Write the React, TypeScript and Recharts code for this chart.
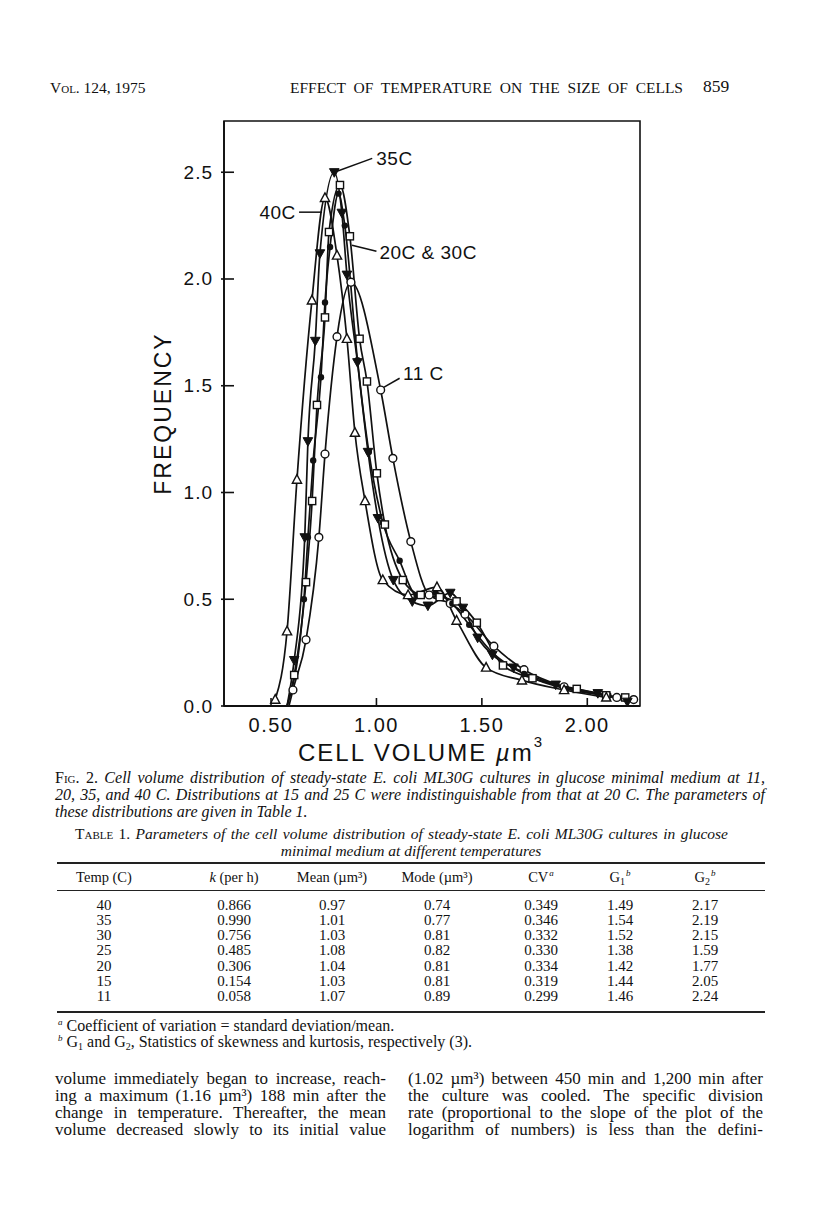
import React from 'react'
import {
  ComposedChart,
  Line,
  XAxis,
  YAxis,
  ReferenceArea,
  ReferenceLine,
  ReferenceDot,
} from 'recharts'

// cell volume (um3) and frequency, one pair per culture temperature
const vol40 = [0.52, 0.576, 0.623, 0.694, 0.756, 0.813, 0.86, 0.898, 0.946, 1.03, 1.15, 1.287, 1.38, 1.52, 1.69, 1.89, 2.09]
const freq40 = [0.03, 0.35, 1.06, 1.9, 2.38, 2.11, 1.72, 1.28, 0.96, 0.59, 0.52, 0.557, 0.4, 0.18, 0.12, 0.075, 0.04]

const vol35 = [0.576, 0.61, 0.66, 0.675, 0.71, 0.732, 0.8, 0.836, 0.86, 0.91, 0.96, 1.007, 1.08, 1.17, 1.244, 1.35, 1.41, 1.48, 1.55, 1.65, 1.85, 2.05, 2.19]
const freq35 = [0, 0.215, 0.79, 1.24, 1.71, 2.12, 2.5, 2.31, 2.02, 1.61, 1.19, 0.88, 0.59, 0.49, 0.47, 0.53, 0.46, 0.32, 0.24, 0.18, 0.1, 0.06, 0.02]

const vol30 = [0.576, 0.61, 0.666, 0.695, 0.718, 0.756, 0.775, 0.827, 0.874, 0.92, 0.955, 1.002, 1.04, 1.125, 1.21, 1.3, 1.38, 1.476, 1.6, 1.74, 1.95, 2.09, 2.18]
const freq30 = [0, 0.145, 0.58, 0.96, 1.41, 1.82, 2.22, 2.44, 2.2, 1.72, 1.52, 1.09, 0.85, 0.59, 0.52, 0.51, 0.49, 0.39, 0.19, 0.13, 0.08, 0.05, 0.04]

const vol20 = [0.576, 0.656, 0.675, 0.7, 0.737, 0.756, 0.78, 0.82, 0.85, 0.91, 0.964, 1.03, 1.11, 1.19, 1.28, 1.36, 1.44, 1.55, 1.7, 1.9, 2.1]
const freq20 = [0, 0.5, 0.79, 1.15, 1.54, 1.89, 2.15, 2.4, 2.25, 1.62, 1.19, 0.86, 0.68, 0.52, 0.53, 0.48, 0.38, 0.25, 0.15, 0.08, 0.05]

const vol11 = [0.585, 0.604, 0.666, 0.727, 0.756, 0.813, 0.879, 1.02, 1.078, 1.163, 1.25, 1.35, 1.42, 1.557, 1.7, 1.89, 2.14, 2.22]
const freq11 = [0, 0.075, 0.31, 0.79, 1.18, 1.73, 1.985, 1.48, 1.16, 0.77, 0.52, 0.48, 0.43, 0.28, 0.17, 0.09, 0.04, 0.03]

const xTicks = [0.5, 1.0, 1.5, 2.0]
const yTicks = [0, 0.5, 1.0, 1.5, 2.0, 2.5]
const xDomain = [0.277, 2.25]
const yDomain = [0, 2.74]

const tableHead = ['Temp (C)', 'k (per h)', 'Mean (µm³)', 'Mode (µm³)', 'CV', 'G₁', 'G₂']
const tempC = ['40', '35', '30', '25', '20', '15', '11']
const kPerH = ['0.866', '0.990', '0.756', '0.485', '0.306', '0.154', '0.058']
const meanVol = ['0.97', '1.01', '1.03', '1.08', '1.04', '1.03', '1.07']
const modeVol = ['0.74', '0.77', '0.81', '0.82', '0.81', '0.81', '0.89']
const cv = ['0.349', '0.346', '0.332', '0.330', '0.334', '0.319', '0.299']
const g1 = ['1.49', '1.54', '1.52', '1.38', '1.42', '1.44', '1.46']
const g2 = ['2.17', '2.19', '2.15', '1.59', '1.77', '2.05', '2.24']

const zip = (v: number[], f: number[]) => v.map((x, i) => ({ v: x, f: f[i] }))

const sans = '"Liberation Sans", Arial, sans-serif'
const serif = '"Liberation Serif", "Times New Roman", serif'
const ink = '#111'

type M = { cx?: number; cy?: number; payload?: any; index?: number }

const openTri = (p: M) => {
  const { cx = 0, cy = 0 } = p
  if (!p.payload || p.payload.f === 0) return <g key={p.index} />
  return <polygon key={p.index} points={`${cx},${cy - 5} ${cx - 4.6},${cy + 3.6} ${cx + 4.6},${cy + 3.6}`} fill="#fff" stroke={ink} strokeWidth={1.4} />
}
const downTri = (p: M) => {
  const { cx = 0, cy = 0 } = p
  if (!p.payload || p.payload.f === 0) return <g key={p.index} />
  return <polygon key={p.index} points={`${cx - 4.8},${cy - 3.6} ${cx + 4.8},${cy - 3.6} ${cx},${cy + 5}`} fill={ink} stroke={ink} strokeWidth={1} />
}
const openSq = (p: M) => {
  const { cx = 0, cy = 0 } = p
  if (!p.payload || p.payload.f === 0) return <g key={p.index} />
  return <rect key={p.index} x={cx - 3.6} y={cy - 3.6} width={7.2} height={7.2} fill="#fff" stroke={ink} strokeWidth={1.4} />
}
const dotFill = (p: M) => {
  const { cx = 0, cy = 0 } = p
  if (!p.payload || p.payload.f === 0) return <g key={p.index} />
  return <circle key={p.index} cx={cx} cy={cy} r={3.2} fill={ink} />
}
const dotOpen = (p: M) => {
  const { cx = 0, cy = 0 } = p
  if (!p.payload || p.payload.f === 0) return <g key={p.index} />
  return <circle key={p.index} cx={cx} cy={cy} r={3.9} fill="#fff" stroke={ink} strokeWidth={1.4} />
}

const YTick = (props: any) => {
  const { x, y, payload } = props
  return (
    <g>
      <line x1={x + 7} x2={x + 20} y1={y} y2={y} stroke={ink} strokeWidth={1.6} />
      <text x={x - 1} y={y} textAnchor="end" dominantBaseline="central" fontFamily={sans} fontSize={19} fill={ink} letterSpacing={1}>
        {payload.value.toFixed(1)}
      </text>
    </g>
  )
}

const XTick = (props: any) => {
  const { x, y, payload } = props
  return (
    <g>
      <line x1={x} x2={x} y1={y - 8} y2={y - 16} stroke={ink} strokeWidth={1.6} />
      <text x={x} y={y + 11} textAnchor="middle" dominantBaseline="central" fontFamily={sans} fontSize={20} fill={ink} letterSpacing={1.5}>
        {payload.value.toFixed(2)}
      </text>
    </g>
  )
}

const note = { fill: ink, fontSize: 19, fontFamily: sans, letterSpacing: 0.5 }

function Chart() {
  return (
    <ComposedChart width={816} height={780} margin={{ top: 121, right: 176, bottom: 4, left: 154 }}>
      <XAxis
        type="number"
        dataKey="v"
        domain={xDomain}
        ticks={xTicks}
        allowDataOverflow
        height={70}
        tickSize={0}
        tickMargin={8}
        tickLine={false}
        tick={<XTick />}
        axisLine={{ stroke: ink, strokeWidth: 1.8 }}
        label={(p: any) => {
          const vb = p.viewBox
          return (
            <text x={vb.x + vb.width / 2 - 11} y={vb.y + 46} textAnchor="middle" dominantBaseline="central" fontFamily={sans} fontSize={24} fill={ink} letterSpacing={2}>
              CELL VOLUME <tspan fontStyle="italic">µ</tspan>m<tspan dy={-11} fontSize={15}>3</tspan>
            </text>
          )
        }}
      />
      <YAxis
        type="number"
        domain={yDomain}
        ticks={yTicks}
        allowDataOverflow
        width={70}
        tickSize={0}
        tickMargin={10}
        tickLine={false}
        tick={<YTick />}
        axisLine={{ stroke: ink, strokeWidth: 1.8 }}
        label={(p: any) => {
          const vb = p.viewBox
          const cx = vb.x + 9
          const cy = vb.y + vb.height / 2
          return (
            <text x={cx} y={cy} transform={`rotate(-90 ${cx} ${cy})`} textAnchor="middle" dominantBaseline="central" fontFamily={sans} fontSize={23} fill={ink} letterSpacing={2}>
              FREQUENCY
            </text>
          )
        }}
      />
      <ReferenceArea x1={xDomain[0]} x2={xDomain[1]} y1={yDomain[0]} y2={yDomain[1]} fill="none" stroke={ink} strokeWidth={1.6} ifOverflow="visible" />

      <Line data={zip(vol11, freq11)} dataKey="f" type="monotone" stroke={ink} strokeWidth={1.7} dot={dotOpen} isAnimationActive={false} />
      <Line data={zip(vol20, freq20)} dataKey="f" type="monotone" stroke={ink} strokeWidth={1.7} dot={dotFill} isAnimationActive={false} />
      <Line data={zip(vol30, freq30)} dataKey="f" type="monotone" stroke={ink} strokeWidth={1.7} dot={openSq} isAnimationActive={false} />
      <Line data={zip(vol35, freq35)} dataKey="f" type="monotone" stroke={ink} strokeWidth={1.7} dot={downTri} isAnimationActive={false} />
      <Line data={zip(vol40, freq40)} dataKey="f" type="monotone" stroke={ink} strokeWidth={1.7} dot={openTri} isAnimationActive={false} />

      <ReferenceLine segment={[{ x: 0.8, y: 2.5 }, { x: 0.98, y: 2.565 }]} stroke={ink} strokeWidth={1.5} ifOverflow="visible" />
      <ReferenceDot x={0.985} y={2.565} r={1} fill="none" stroke="none" label={{ value: '35C', position: 'right', offset: 2, ...note }} />
      <ReferenceLine segment={[{ x: 0.633, y: 2.313 }, { x: 0.742, y: 2.313 }]} stroke={ink} strokeWidth={1.5} ifOverflow="visible" />
      <ReferenceDot x={0.632} y={2.313} r={1} fill="none" stroke="none" label={{ value: '40C', position: 'left', offset: 2, ...note }} />
      <ReferenceLine segment={[{ x: 0.884, y: 2.158 }, { x: 1.0, y: 2.13 }]} stroke={ink} strokeWidth={1.5} ifOverflow="visible" />
      <ReferenceDot x={1.0} y={2.125} r={1} fill="none" stroke="none" label={{ value: '20C & 30C', position: 'right', offset: 2, ...note }} />
      <ReferenceLine segment={[{ x: 1.03, y: 1.49 }, { x: 1.11, y: 1.535 }]} stroke={ink} strokeWidth={1.5} ifOverflow="visible" />
      <ReferenceDot x={1.112} y={1.56} r={1} fill="none" stroke="none" label={{ value: '11 C', position: 'right', offset: 2, ...note }} />
    </ComposedChart>
  )
}

const abs = (left: number, top: number, extra: React.CSSProperties = {}): React.CSSProperties => ({
  position: 'absolute',
  left,
  top,
  ...extra,
})

// one justified line of running text, centred vertically on y
function TextLine({ x, y, w, size, italic, last, center, children }: { x: number; y: number; w: number; size: number; italic?: boolean; last?: boolean; center?: boolean; children: React.ReactNode }) {
  const align = center ? 'center' : last ? 'left' : 'justify'
  return (
    <div
      style={abs(x, y - size / 2, {
        width: w,
        fontSize: size,
        lineHeight: `${size}px`,
        fontStyle: italic ? 'italic' : 'normal',
        textAlign: align,
        textAlignLast: align,
        whiteSpace: 'nowrap',
      })}
    >
      {children}
    </div>
  )
}

const Sup = ({ c }: { c: string }) => (
  <span style={{ fontSize: 9, fontStyle: 'italic', position: 'relative', top: -6, marginLeft: 1 }}>{c}</span>
)
const Sub = ({ c }: { c: string }) => (
  <span style={{ fontSize: 10, position: 'relative', top: 3 }}>{c}</span>
)

const colCenter = [104, 234, 332, 437, 541, 620, 705]
const rowY = [905, 920.3, 935.6, 950.9, 966.2, 981.5, 996.8]

export default function App() {
  const rows = tempC.map((t, i) => [t, kPerH[i], meanVol[i], modeVol[i], cv[i], g1[i], g2[i]])
  return (
    <div style={{ position: 'absolute', left: 0, top: 0, width: 816, height: 1227, background: '#fff', color: ink, fontFamily: serif, overflow: 'hidden' }}>
      {/* running head */}
      <TextLine x={50} y={88} w={120} size={15.5} last>
        <span style={{ fontVariant: 'small-caps' }}>Vol. 124, 1975</span>
      </TextLine>
      <TextLine x={290} y={88} w={393} size={15.5}>EFFECT OF TEMPERATURE ON THE SIZE OF CELLS</TextLine>
      <TextLine x={703} y={87} w={40} size={17.5} last>859</TextLine>

      <div style={abs(0, 0)}>
        <Chart />
      </div>

      {/* figure legend */}
      <TextLine x={55} y={778} w={710} size={16} italic>
        <span style={{ fontStyle: 'normal', fontVariant: 'small-caps' }}>Fig. 2.</span> Cell volume distribution of steady-state E. coli ML30G cultures in glucose minimal medium at 11,
      </TextLine>
      <TextLine x={55} y={795} w={710} size={16} italic>
        20, 35, and 40 C. Distributions at 15 and 25 C were indistinguishable from that at 20 C. The parameters of
      </TextLine>
      <TextLine x={55} y={812} w={710} size={16} italic last>
        these distributions are given in Table 1.
      </TextLine>

      {/* table */}
      <TextLine x={75} y={834} w={653} size={15.5} italic>
        <span style={{ fontStyle: 'normal', fontVariant: 'small-caps' }}>Table 1.</span> Parameters of the cell volume distribution of steady-state E. coli ML30G cultures in glucose
      </TextLine>
      <TextLine x={57} y={851} w={708} size={15.5} italic center>
        minimal medium at different temperatures
      </TextLine>
      <div style={abs(57, 862, { width: 708, height: 0, borderTop: '2px solid #222' })} />
      <div style={abs(57, 890, { width: 708, height: 0, borderTop: '1.5px solid #222' })} />
      <div style={abs(57, 1011, { width: 708, height: 0, borderTop: '2px solid #222' })} />
      {tableHead.map((h, j) => (
        <div key={h} style={abs(colCenter[j] - 60, 877 - 7.5, { width: 120, textAlign: 'center', fontSize: 14.5, lineHeight: '15px', whiteSpace: 'nowrap' })}>
          {j === 1 ? (
            <>
              <i>k</i> (per h)
            </>
          ) : j >= 5 ? (
            <>
              G<Sub c={j === 5 ? '1' : '2'} />
            </>
          ) : (
            h
          )}
          {j === 4 && <Sup c="a" />}
          {j >= 5 && <Sup c="b" />}
        </div>
      ))}
      {rows.map((r, i) =>
        r.map((c, j) => (
          <div key={`${i}-${j}`} style={abs(colCenter[j] - 40, rowY[i] - 7.5, { width: 80, textAlign: 'center', fontSize: 15, lineHeight: '15px' })}>
            {c}
          </div>
        ))
      )}

      {/* footnotes */}
      <div style={abs(57, 1026 - 8, { fontSize: 16, lineHeight: '16px', whiteSpace: 'nowrap' })}>
        <Sup c="a" /> Coefficient of variation = standard deviation/mean.
      </div>
      <div style={abs(57, 1042 - 8, { fontSize: 16, lineHeight: '16px', whiteSpace: 'nowrap' })}>
        <Sup c="b" /> G<Sub c="1" /> and G<Sub c="2" />, Statistics of skewness and kurtosis, respectively (3).
      </div>

      {/* body text, two columns */}
      <TextLine x={55} y={1078} w={331} size={17}>volume immediately began to increase, reach-</TextLine>
      <TextLine x={55} y={1095} w={331} size={17}>ing a maximum (1.16 µm³) 188 min after the</TextLine>
      <TextLine x={55} y={1112} w={331} size={17}>change in temperature. Thereafter, the mean</TextLine>
      <TextLine x={55} y={1129} w={331} size={17}>volume decreased slowly to its initial value</TextLine>
      <TextLine x={408} y={1078} w={355} size={17}>(1.02 µm³) between 450 min and 1,200 min after</TextLine>
      <TextLine x={408} y={1095} w={355} size={17}>the culture was cooled. The specific division</TextLine>
      <TextLine x={408} y={1112} w={355} size={17}>rate (proportional to the slope of the plot of the</TextLine>
      <TextLine x={408} y={1129} w={355} size={17}>logarithm of numbers) is less than the defini-</TextLine>
    </div>
  )
}
